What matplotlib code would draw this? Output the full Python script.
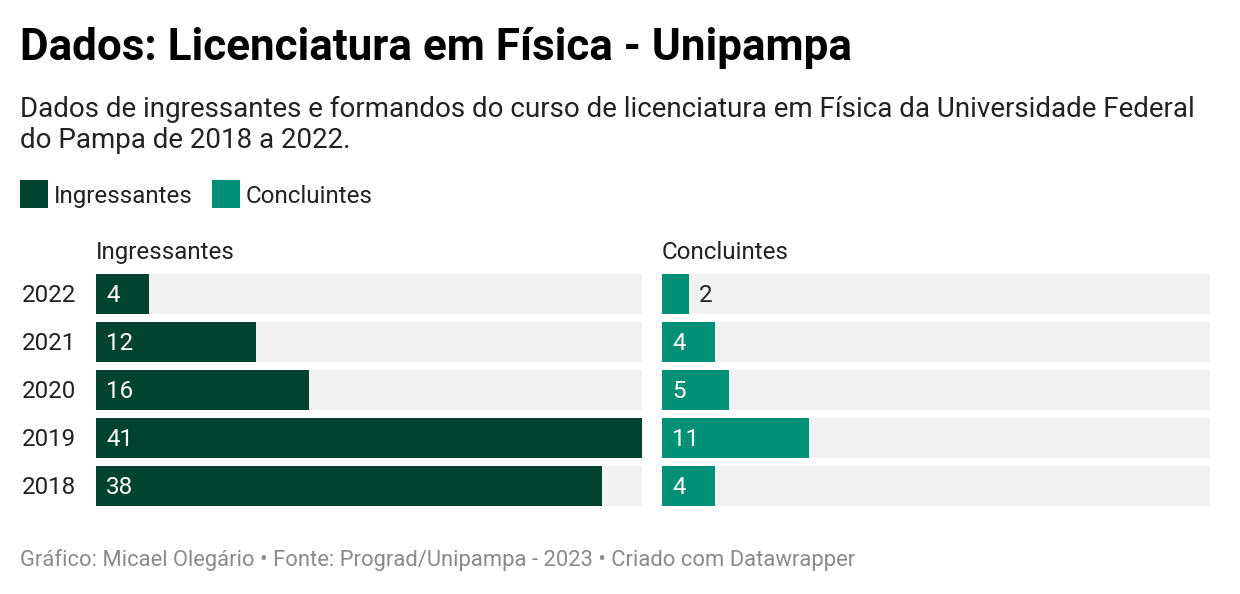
import matplotlib.pyplot as plt
from matplotlib.patches import Rectangle

plt.rcParams['font.family'] = ['Roboto', 'DejaVu Sans']

# data
anos = ['2022', '2021', '2020', '2019', '2018']
ingressantes = [4, 12, 16, 41, 38]
concluintes = [2, 4, 5, 11, 4]
escala_max = 41

cor_ingr = '#01432f'
cor_concl = '#009076'
cor_fundo = '#f2f2f2'

W, H = 1240, 594
fig = plt.figure(figsize=(W / 100, H / 100), dpi=100)


def px(x, y):
    # pixel coords (from top-left) -> figure fraction
    return x / W, 1 - y / H


fs = 17.4
dy = 2  # small nudge so text sits like in the original

# titles
fig.text(*px(20, 46 + dy), 'Dados: Licenciatura em Física - Unipampa', fontsize=31.7,
         fontweight='bold', va='center', ha='left', color='#000000')
fig.text(*px(20, 107 + dy), 'Dados de ingressantes e formandos do curso de licenciatura em Física da Universidade Federal',
         fontsize=20, va='center', ha='left', color='#222222')
fig.text(*px(20, 139 + dy), 'do Pampa de 2018 a 2022.',
         fontsize=20, va='center', ha='left', color='#222222')

# legend
for x0, cor, nome in [(20, cor_ingr, 'Ingressantes'), (212, cor_concl, 'Concluintes')]:
    fx, fy = px(x0, 208)
    fig.patches.append(Rectangle((fx, fy), 28 / W, 28 / H, transform=fig.transFigure,
                                 facecolor=cor, edgecolor='none'))
    fig.text(*px(x0 + 34, 194 + dy), nome, fontsize=fs, va='center', ha='left', color='#222222')

# panels
painel = [(96, 642, ingressantes, cor_ingr, 'Ingressantes'),
          (662, 1210, concluintes, cor_concl, 'Concluintes')]
top, bottom = 274, 506
n = len(anos)
altura = 40 / 48

for x0, x1, vals, cor, nome in painel:
    l, b = px(x0, bottom)
    ax = fig.add_axes([l, b, (x1 - x0) / W, (bottom - top) / H])
    pos = list(range(n))
    ax.barh(pos, [escala_max] * n, height=altura, color=cor_fundo)
    ax.barh(pos, vals, height=altura, color=cor)
    ax.set_xlim(0, escala_max)
    ax.set_ylim(n - 1 + altura / 2, -altura / 2)
    ax.axis('off')
    px_unit = (x1 - x0) / escala_max
    for p, v in zip(pos, vals):
        largura = v * px_unit
        if largura > 40:
            ax.annotate(str(v), (0, p), xytext=(10, -dy), textcoords='offset pixels',
                        va='center', ha='left', fontsize=fs, color='white')
        else:
            ax.annotate(str(v), (v, p), xytext=(10, -dy), textcoords='offset pixels',
                        va='center', ha='left', fontsize=fs, color='#222222')
    fig.text(*px(x0, 250 + dy), nome, fontsize=fs, va='center', ha='left', color='#222222')

# year labels
for i, ano in enumerate(anos):
    fig.text(*px(76, 294 + 48 * i + dy), ano, fontsize=fs, va='center', ha='right', color='#222222')

# footer
fig.text(*px(20, 558 + dy), 'Gráfico: Micael Olegário • Fonte: Prograd/Unipampa - 2023 • Criado com Datawrapper',
         fontsize=15.85, va='center', ha='left', color='#8a8a8a')

fig.savefig('out.png', dpi=100, facecolor='white')
